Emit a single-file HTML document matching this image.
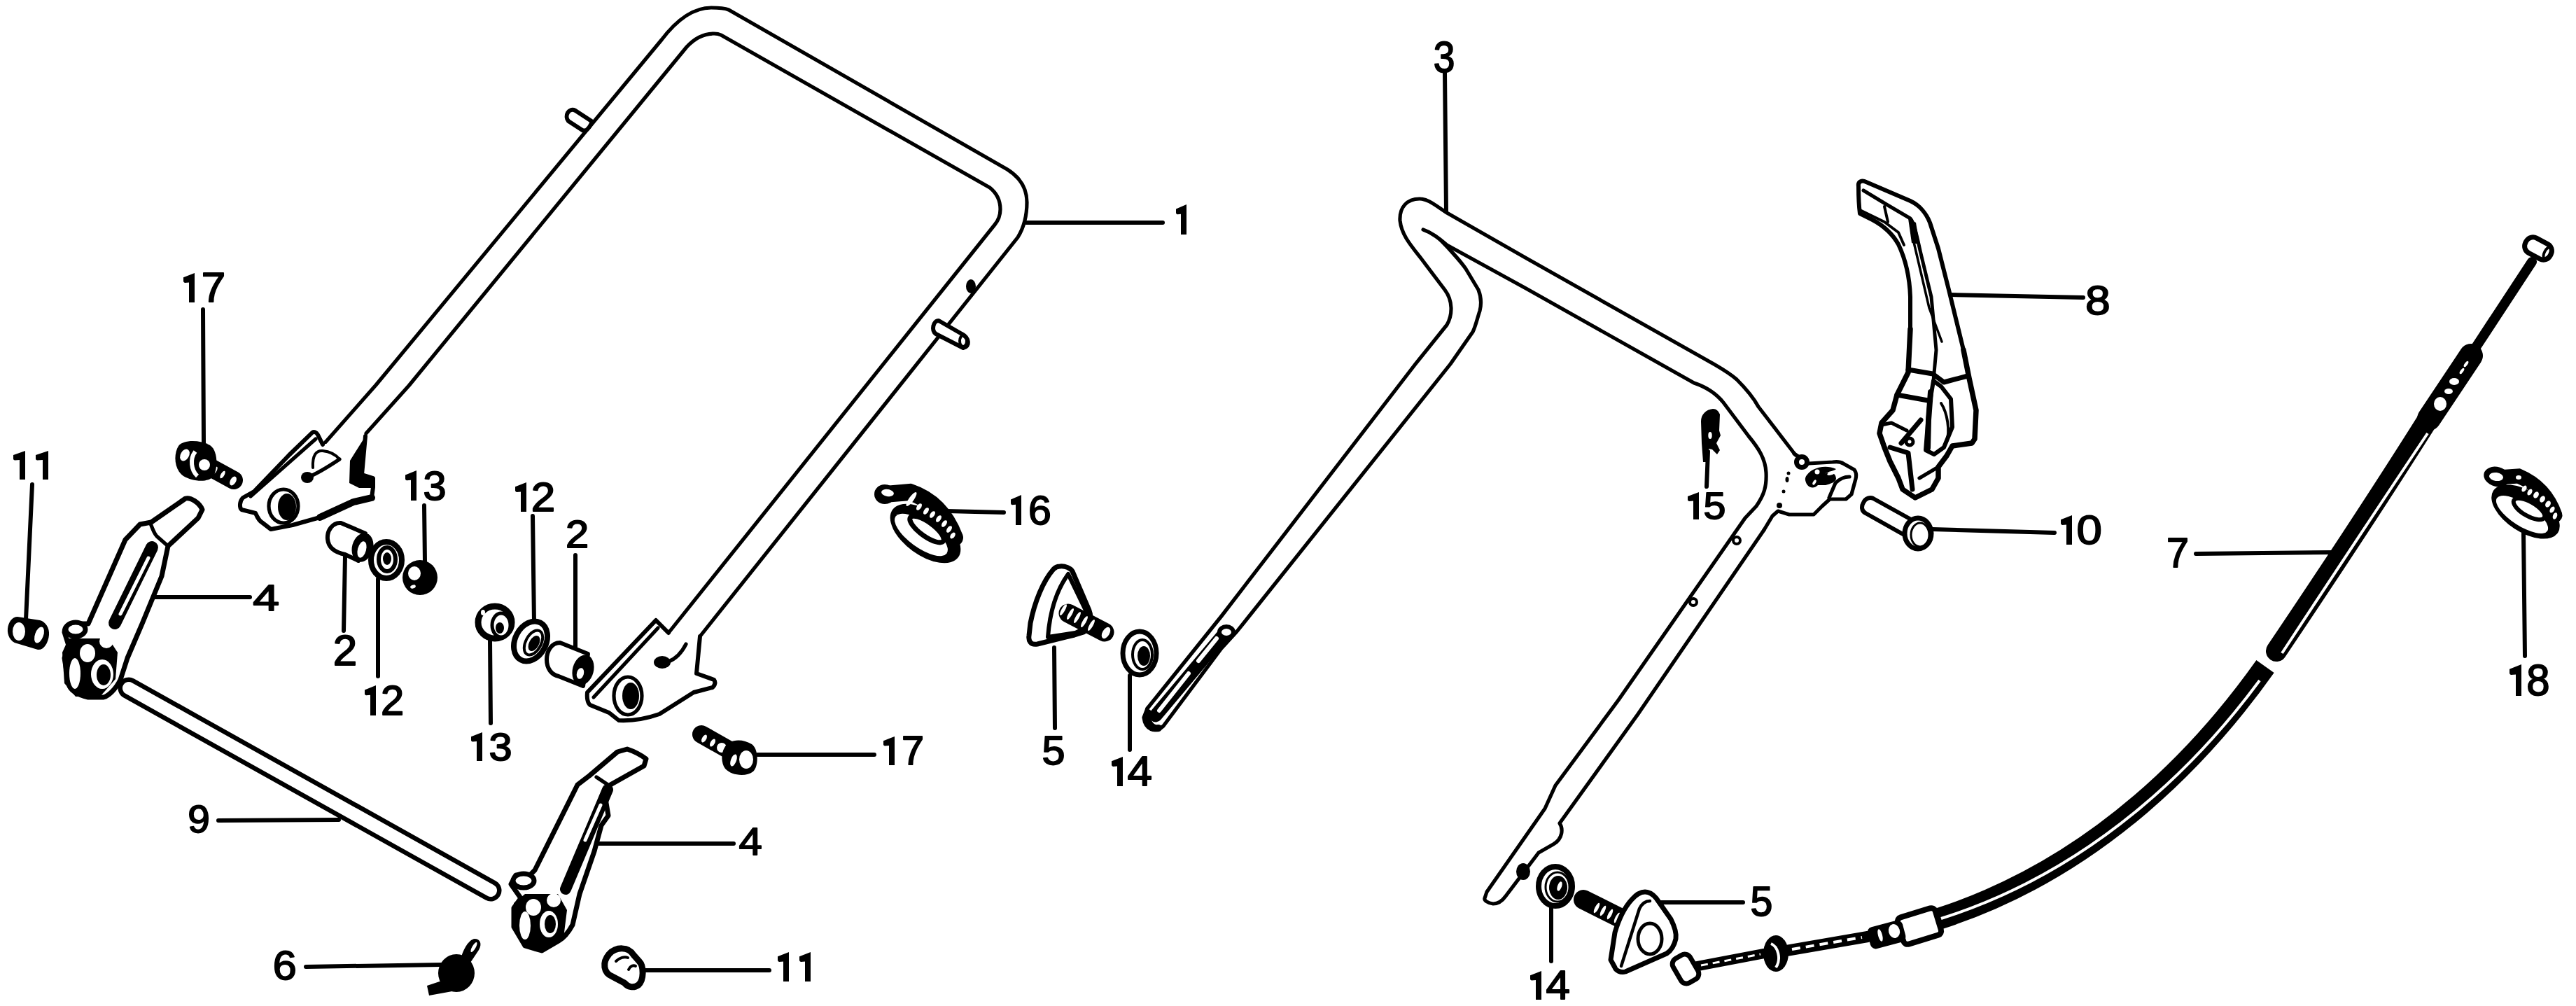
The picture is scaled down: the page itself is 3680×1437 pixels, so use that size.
<!DOCTYPE html>
<html><head><meta charset="utf-8"><style>
html,body{margin:0;padding:0;background:#fff;}
svg{display:block;}
text{font-family:"Liberation Sans",sans-serif;font-weight:normal;fill:#000;stroke:#000;stroke-width:1.8;stroke-linejoin:round;}
.ln{fill:none;stroke:#000;stroke-width:5.2;stroke-linecap:round;stroke-linejoin:round;}
.lt{fill:#fff;stroke:#000;stroke-width:6;stroke-linecap:round;stroke-linejoin:round;}
.ld{stroke:#000;stroke-width:6;stroke-linecap:round;}
.bk{fill:#000;}
.wh{fill:#fff;}
</style></head><body>
<svg width="3680" height="1437" viewBox="0 0 3680 1437">
<line x1="1466" y1="318" x2="1661" y2="318" class="ld"/>
<line x1="2064" y1="104" x2="2066" y2="302" class="ld"/>
<line x1="2786" y1="421" x2="2976" y2="425" class="ld"/>
<line x1="290" y1="442" x2="291" y2="633" class="ld"/>
<line x1="46" y1="692" x2="37" y2="885" class="ld"/>
<line x1="606" y1="722" x2="607" y2="803" class="ld"/>
<line x1="493" y1="794" x2="491" y2="901" class="ld"/>
<line x1="540" y1="827" x2="540" y2="966" class="ld"/>
<line x1="761" y1="737" x2="763" y2="889" class="ld"/>
<line x1="822" y1="793" x2="822" y2="927" class="ld"/>
<line x1="700" y1="915" x2="701" y2="1033" class="ld"/>
<line x1="220" y1="853" x2="357" y2="853" class="ld"/>
<line x1="312" y1="1172" x2="484" y2="1171" class="ld"/>
<line x1="1082" y1="1078" x2="1249" y2="1078" class="ld"/>
<line x1="855" y1="1205" x2="1048" y2="1205" class="ld"/>
<line x1="437" y1="1381" x2="630" y2="1378" class="ld"/>
<line x1="918" y1="1386" x2="1099" y2="1386" class="ld"/>
<line x1="1352" y1="730" x2="1434" y2="732" class="ld"/>
<line x1="1506" y1="925" x2="1507" y2="1040" class="ld"/>
<line x1="1614" y1="965" x2="1614" y2="1071" class="ld"/>
<line x1="2440" y1="645" x2="2438" y2="695" class="ld"/>
<line x1="2216" y1="1296" x2="2216" y2="1373" class="ld"/>
<line x1="2368" y1="1289" x2="2490" y2="1289" class="ld"/>
<line x1="2760" y1="756" x2="2935" y2="761" class="ld"/>
<line x1="3137" y1="791" x2="3333" y2="789" class="ld"/>
<line x1="3605" y1="762" x2="3607" y2="937" class="ld"/>
<!-- Handle 1 -->
<path class="ln" d="M462,635 L537,550 L945,57 C967,28 990,11 1016,11 C1030,11 1036,12 1041,14 L1439,242 C1458,254 1467,270 1467,289 C1467,310 1462,326 1454,339 L1000,909"/>
<path class="ln" d="M523,619 L584,551 L981,67 C992,55 1005,48 1020,48 C1024,48 1026,48 1030,50 L1414,268 C1424,276 1429,287 1429,299 C1429,308 1426,315 1421,321 L955,904"/>
<path class="lt" d="M845,173 L822,158 C812,153 806,166 812,173 L832,186 C838,189 843,180 845,176 Z"/>
<ellipse class="bk" cx="1387" cy="409" rx="7" ry="10"/>
<path class="lt" d="M1341,458 L1374,477 C1385,483 1386,495 1376,497 L1337,477 C1330,472 1333,458 1341,458 Z"/>
<ellipse class="ln" cx="1376" cy="487" rx="5" ry="8" style="stroke-width:4"/>
<!-- left bracket of handle 1 -->
<path class="lt" d="M461,635 L454,621 C452,617 448,616 446,618 L413,650 L363,702 L347,711 C342,716 342,725 345,728 L365,733 C368,740 372,745 374,746 L387,756 L418,750 L457,739 L505,717 L531,711 L533,696 L533,683 L517,678 L522,623"/>
<path class="bk" d="M522,623 L500,658 L499,690 L513,697 L533,697 L534,683 L517,678 Z"/>
<path class="ln" d="M457,739 L505,717 L531,711" style="stroke-width:10"/>
<path class="ln" d="M358,709 L451,627"/>
<ellipse class="ln" cx="405" cy="723" rx="21" ry="24"/>
<ellipse class="bk" cx="410" cy="724" rx="13" ry="19"/>
<ellipse class="bk" cx="439" cy="682" rx="9" ry="8"/>
<path class="ln" d="M439,682 C455,676 470,666 485,656"/>
<path class="ln" d="M447,668 C446,650 452,643 461,644 C472,645 480,650 485,656" style="stroke-width:4"/>
<!-- right bracket of handle 1 -->
<path class="lt" d="M955,904 L937,886 L839,989 C838,998 840,1005 843,1007 L870,1018 L884,1029 C905,1030 925,1026 942,1020 L991,989 L1018,982 C1022,978 1022,974 1020,971 L995,962 L1000,909"/>
<path class="ln" d="M848,996 L940,897"/>
<ellipse class="ln" cx="897" cy="994" rx="20" ry="27"/>
<ellipse class="bk" cx="901" cy="994" rx="12" ry="19"/>
<ellipse class="bk" cx="946" cy="946" rx="12" ry="9"/>
<path class="ln" d="M955,945 C968,940 975,930 980,920"/>
<!-- part 17 upper bolt -->
<line x1="292" y1="663" x2="334" y2="686" stroke="#000" stroke-width="26" stroke-linecap="round"/>
<ellipse class="wh" cx="307" cy="672" rx="2.5" ry="6" transform="rotate(30 307 672)"/>
<ellipse class="wh" cx="318" cy="678" rx="2.5" ry="6" transform="rotate(30 318 678)"/>
<ellipse class="wh" cx="333" cy="687" rx="4" ry="7" transform="rotate(30 333 687)"/>
<path class="bk" d="M255,637 C262,628 285,628 300,636 C312,644 311,670 305,680 C298,690 275,688 262,680 C248,670 248,648 255,637 Z"/>
<ellipse class="wh" cx="264" cy="650" rx="6" ry="9" transform="rotate(30 264 650)"/>
<circle class="wh" cx="292" cy="664" r="8"/>
<path d="M279,645 C271,655 273,672 282,680" stroke="#fff" stroke-width="6" fill="none"/>
<!-- part 11 left cap -->
<path class="bk" d="M25,881 L57,886 C65,888 71,897 70,907 C69,919 62,929 54,928 L24,919 C15,917 10,907 11,898 C12,888 18,881 25,881 Z"/>
<ellipse class="wh" cx="27" cy="902" rx="9" ry="13"/>
<ellipse class="wh" cx="56" cy="907" rx="6" ry="12" transform="rotate(20 56 907)"/>
<!-- part 4 left lever -->
<path class="lt" d="M216,746 L265,712 C272,710 285,718 289,728 L283,740 L240,780 L231,823 L203,891 L182,940 L172,971 C165,985 155,994 148,996 L126,996 C108,992 100,985 98,977 L92,940 L98,922 L92,903 C92,895 98,891 105,891 L126,891 L145,848 L179,771 L200,749 Z" style="stroke-width:7"/>
<path class="ln" d="M215,748 C218,755 220,762 224,766 L240,780"/>
<path d="M217,782 L164,890" stroke="#000" stroke-width="18" stroke-linecap="round"/>
<path d="M212,797 L172,877" stroke="#fff" stroke-width="5" stroke-linecap="round"/>
<path class="bk" d="M89,932 L98,912 L155,912 L168,932 L165,970 L143,995 L108,995 L92,976 Z"/>
<circle class="wh" cx="152" cy="916" r="10"/>
<ellipse class="wh" cx="125" cy="933" rx="11" ry="13"/>
<ellipse class="wh" cx="146" cy="963" rx="16" ry="21"/>
<ellipse class="bk" cx="148" cy="964" rx="10" ry="15"/>
<ellipse class="wh" cx="107" cy="962" rx="8" ry="22"/>
<ellipse class="lt" cx="108" cy="899" rx="14" ry="10" style="stroke-width:7"/>
<!-- part 9 rod -->
<path d="M184,983 L701,1272" stroke="#000" stroke-width="31" stroke-linecap="round"/>
<path d="M184,983 L701,1272" stroke="#fff" stroke-width="18" stroke-linecap="round"/>
<!-- part 2 spacer upper -->
<path class="lt" d="M487,747 C475,746 467,758 468,770 C469,782 478,789 493,792 L512,801 L522,762 Z"/>
<ellipse class="bk" cx="518" cy="782" rx="15" ry="21" transform="rotate(15 518 782)"/>
<ellipse class="wh" cx="517" cy="785" rx="6" ry="12" transform="rotate(15 517 785)"/>
<!-- washer 12 upper -->
<ellipse class="lt" cx="552" cy="800" rx="22" ry="26" style="stroke-width:8"/>
<ellipse class="ln" cx="553" cy="799" rx="12" ry="17" style="stroke-width:6"/>
<ellipse class="bk" cx="553" cy="798" rx="6" ry="9"/>
<!-- nut 13 upper -->
<ellipse class="bk" cx="600" cy="825" rx="25" ry="25"/>
<ellipse class="wh" cx="592" cy="819" rx="9" ry="10"/>
<ellipse class="wh" cx="590" cy="838" rx="4" ry="2.5" transform="rotate(-20 590 838)"/>
<!-- nut 13 lower -->
<ellipse cx="707" cy="889" rx="24" ry="23" fill="#fff" stroke="#000" stroke-width="9"/>
<ellipse cx="716" cy="893" rx="13" ry="17" fill="#fff" stroke="#000" stroke-width="5"/>
<ellipse class="bk" cx="714" cy="897" rx="6" ry="8"/>
<ellipse class="wh" cx="690" cy="875" rx="3" ry="4"/>
<!-- washer 12 mid -->
<ellipse cx="758" cy="916" rx="22" ry="30" transform="rotate(28 758 916)" fill="#fff" stroke="#000" stroke-width="8"/>
<ellipse cx="762" cy="918" rx="11" ry="19" transform="rotate(28 762 918)" fill="#fff" stroke="#000" stroke-width="4"/>
<ellipse class="bk" cx="763" cy="919" rx="7" ry="12" transform="rotate(28 763 919)"/>
<!-- spacer 2 mid -->
<path class="lt" d="M800,918 C788,918 781,930 781,942 C781,955 788,964 798,966 L833,980 L840,934 Z"/>
<ellipse class="bk" cx="833" cy="957" rx="15" ry="22" transform="rotate(15 833 957)"/>
<ellipse class="wh" cx="829" cy="962" rx="5" ry="8" transform="rotate(15 829 962)"/>
<!-- part 17 lower bolt -->
<line x1="1002" y1="1049" x2="1048" y2="1075" stroke="#000" stroke-width="26" stroke-linecap="round"/>
<ellipse class="wh" cx="1006" cy="1055" rx="3" ry="6" transform="rotate(30 1006 1055)"/>
<ellipse class="wh" cx="1018" cy="1061" rx="3" ry="6" transform="rotate(30 1018 1061)"/>
<circle class="wh" cx="1031" cy="1068" r="7"/>
<path class="bk" d="M1035,1068 C1040,1056 1060,1054 1074,1063 C1084,1070 1084,1095 1076,1102 C1066,1110 1045,1108 1036,1098 C1030,1090 1030,1076 1035,1068 Z"/>
<ellipse class="wh" cx="1066" cy="1085" rx="10" ry="13"/>
<ellipse class="wh" cx="1048" cy="1086" rx="4" ry="9" transform="rotate(20 1048 1086)"/>
<!-- part 4 lower lever -->
<path class="lt" d="M882,1074 L896,1070 C905,1073 915,1078 923,1084 L920,1094 L872,1121 L865,1141 L869,1165 L859,1179 L849,1216 L828,1277 L818,1321 C812,1332 805,1340 798,1344 L774,1358 L750,1351 L734,1324 L734,1297 L744,1283 L730,1263 L737,1250 L757,1250 L764,1243 L798,1175 L825,1121 L842,1108 Z" style="stroke-width:7"/>
<path class="ln" d="M852,1110 L870,1122"/>
<path d="M868,1128 L808,1270" stroke="#000" stroke-width="16" stroke-linecap="round"/>
<path d="M858,1150 L836,1200" stroke="#fff" stroke-width="5" stroke-linecap="round"/>
<path class="bk" d="M734,1290 L750,1277 L797,1277 L810,1300 L805,1340 L775,1357 L750,1350 L735,1325 Z"/>
<circle class="wh" cx="791" cy="1286" r="10"/>
<ellipse class="wh" cx="762" cy="1296" rx="11" ry="12"/>
<ellipse class="wh" cx="784" cy="1320" rx="13" ry="19"/>
<ellipse class="bk" cx="786" cy="1320" rx="8" ry="13"/>
<ellipse class="wh" cx="750" cy="1322" rx="8" ry="20"/>
<ellipse class="lt" cx="748" cy="1258" rx="15" ry="10" style="stroke-width:7"/>
<!-- part 6 spring -->
<ellipse class="bk" cx="652" cy="1390" rx="26" ry="27"/>
<path class="bk" d="M658,1370 C662,1355 670,1342 678,1341 C686,1341 689,1348 684,1357 L670,1378 Z"/>
<ellipse class="wh" cx="677" cy="1353" rx="2.5" ry="8" transform="rotate(30 677 1353)"/>
<path class="bk" d="M610,1408 L640,1398 L646,1416 L613,1422 Z"/>
<!-- part 11 lower cap -->
<path class="lt" d="M870,1363 C880,1352 898,1352 905,1364 L913,1373 C920,1380 920,1400 912,1407 C905,1412 897,1410 892,1404 L875,1395 C862,1390 860,1375 870,1363 Z" style="stroke-width:9"/>
<path class="ln" d="M880,1373 C885,1368 892,1366 897,1368" style="stroke-width:4"/>
<path class="ln" d="M898,1385 C900,1380 905,1378 908,1380" style="stroke-width:4"/>
<!-- part 16 clamp middle -->
<ellipse class="bk" cx="1322" cy="762" rx="58" ry="31" transform="rotate(36 1322 762)"/>
<ellipse class="wh" cx="1316" cy="764" rx="45" ry="18" transform="rotate(36 1316 764)"/>
<ellipse cx="1324" cy="756" rx="29" ry="10" transform="rotate(36 1324 756)" fill="#fff" stroke="#000" stroke-width="7"/>
<path d="M1264,706 L1300,703 Q1345,718 1364,768" stroke="#000" stroke-width="24" fill="none" stroke-linecap="round"/>
<ellipse class="bk" cx="1264" cy="706" rx="15" ry="14"/>
<ellipse class="wh" cx="1268" cy="704" rx="9" ry="5" transform="rotate(10 1268 704)"/>
<ellipse class="wh" cx="1302" cy="713" rx="3.5" ry="12" transform="rotate(35 1302 713)"/>
<ellipse class="wh" cx="1313" cy="724" rx="3" ry="5.5" transform="rotate(35 1313 724)"/>
<ellipse class="wh" cx="1323" cy="730" rx="3" ry="5.5" transform="rotate(35 1323 730)"/>
<ellipse class="wh" cx="1332" cy="735" rx="3" ry="5.5" transform="rotate(35 1332 735)"/>
<ellipse class="wh" cx="1341" cy="741" rx="3" ry="5.5" transform="rotate(35 1341 741)"/>
<ellipse class="wh" cx="1349" cy="748" rx="3" ry="5.5" transform="rotate(35 1349 748)"/>
<ellipse class="wh" cx="1356" cy="756" rx="3" ry="5.5" transform="rotate(35 1356 756)"/>
<ellipse class="wh" cx="1361" cy="765" rx="3" ry="5" transform="rotate(35 1361 765)"/>
<!-- part 5 knob mid -->
<path class="lt" d="M1514,809 C1522,808 1530,812 1532,816 L1556,872 C1560,882 1558,895 1548,903 L1535,907 L1482,920 C1472,922 1469,915 1470,908 L1472,890 C1478,860 1490,830 1505,813 C1508,810 1511,809 1514,809 Z" style="stroke-width:7"/>
<path class="ln" d="M1497,910 C1500,870 1510,842 1526,820 L1553,876 C1556,890 1548,900 1536,904 Z" style="stroke-width:6"/>
<line x1="1526" y1="876" x2="1578" y2="903" stroke="#000" stroke-width="27" stroke-linecap="round"/>
<ellipse class="wh" cx="1519" cy="871" rx="2.5" ry="9" transform="rotate(30 1519 871)"/>
<ellipse class="wh" cx="1529" cy="877" rx="2.5" ry="9" transform="rotate(30 1529 877)"/>
<ellipse class="wh" cx="1539" cy="882" rx="2.5" ry="9" transform="rotate(30 1539 882)"/>
<ellipse class="wh" cx="1549" cy="888" rx="2.5" ry="9" transform="rotate(30 1549 888)"/>
<ellipse class="wh" cx="1559" cy="893" rx="2.5" ry="9" transform="rotate(30 1559 893)"/>
<ellipse class="wh" cx="1580" cy="904" rx="5" ry="9" transform="rotate(30 1580 904)"/>
<!-- washer 14 mid -->
<ellipse class="lt" cx="1628" cy="933" rx="24" ry="31" style="stroke-width:7"/>
<ellipse class="ln" cx="1632" cy="935" rx="14" ry="21" style="stroke-width:4"/>
<ellipse class="bk" cx="1634" cy="937" rx="9" ry="14"/>
<!-- Handle 3 -->
<path class="ln" d="M1639,1012 L1745,880 L2022,520 L2067,464 C2075,450 2076,430 2064,414 L2030,369 C2015,350 2002,335 2000,315 C1999,296 2010,284 2028,284 C2040,284 2050,293 2067,304 L2179,368 L2450,521 C2462,528 2472,534 2481,542 C2495,556 2505,568 2512,581 L2565,650"/>
<path class="ln" d="M2520,757 L2340,1020 L2228,1176 C2233,1183 2233,1198 2219,1206 L2198,1218 L2151,1280 C2146,1287 2139,1291 2133,1291 C2125,1290 2120,1286 2121,1283 L2124,1274 L2207,1155 L2222,1122 L2312,1000 L2493,740 L2509,723 C2520,707 2524,695 2523,675 C2522,655 2512,640 2498,623 L2462,575 C2450,560 2435,552 2420,547 L2180,412 L2067,350 C2055,340 2045,332 2033,328"/>
<path class="ln" d="M2057,342 C2075,360 2090,378 2094,384 L2112,414 C2116,424 2116,436 2114,444 C2110,456 2108,466 2104,474 L2072,520 L1767,902 L1745,926 L1662,1037 C1650,1048 1636,1042 1634,1025 L1639,1012"/>
<path d="M1651,1022 L1750,904" stroke="#000" stroke-width="19" stroke-linecap="round"/>
<path d="M1656,1015 L1698,962" stroke="#fff" stroke-width="6" stroke-linecap="round"/>
<path d="M1712,944 L1738,912" stroke="#fff" stroke-width="6" stroke-linecap="round"/>
<ellipse class="lt" cx="1752" cy="903" rx="10" ry="8"/>
<path d="M1640,1018 C1636,1030 1645,1042 1655,1040" stroke="#000" stroke-width="10" fill="none" stroke-linecap="round"/>
<!-- bracket handle 3 -->
<path class="ln" d="M2563,648 L2584,662 L2618,660 C2625,659 2630,660 2633,662 L2649,671 C2652,675 2652,680 2651,684 L2645,706 L2637,713 L2614,713 L2603,723 L2591,735 L2556,735 L2540,730 L2532,737 L2520,757"/>
<circle cx="2574" cy="660" r="7.5" fill="#fff" stroke="#000" stroke-width="7"/>
<path class="bk" d="M2579,686 C2581,696 2590,700 2597,693 L2608,693 C2615,691 2622,689 2623,684 C2623,676 2615,672 2606,677 C2612,673 2620,673 2623,670 C2612,665 2600,666 2590,671 C2583,675 2578,681 2579,686 Z"/>
<circle class="wh" cx="2596" cy="674" r="3.5"/>
<ellipse class="wh" cx="2592" cy="689" rx="2" ry="4" transform="rotate(30 2592 689)"/>
<ellipse class="wh" cx="2616" cy="676" rx="6" ry="2.5" transform="rotate(-20 2616 676)"/>
<path class="ln" d="M2613,711 L2622,690 C2628,684 2635,681 2642,681"/>
<circle class="bk" cx="2555" cy="676" r="2.5"/>
<ellipse class="bk" cx="2553" cy="685" rx="2.5" ry="4"/>
<circle class="bk" cx="2548" cy="702" r="2.5"/>
<circle class="bk" cx="2542" cy="722" r="4"/>
<!-- clip 15 -->
<path class="bk" d="M2447,584 C2437,585 2430,592 2430,602 L2431,633 L2433,660 L2440,660 L2441,641 L2446,642 L2453,649 L2457,643 L2452,633 L2458,622 L2456,615 L2457,592 C2455,587 2452,584 2447,584 Z"/>
<ellipse class="wh" cx="2443" cy="622" rx="2.7" ry="5"/>
<!-- holes right leg -->
<circle class="ln" cx="2481" cy="772" r="5" style="stroke-width:4"/>
<circle class="ln" cx="2419" cy="860" r="5" style="stroke-width:4"/>
<ellipse class="bk" cx="2176" cy="1245" rx="10" ry="12"/>
<!-- lever 8 -->
<path class="lt" d="M2655,266 C2654,259 2660,257 2666,260 L2729,287 C2742,293 2752,305 2757,318 L2769,355 L2784,414 L2805,500 L2813,540 L2823,586 L2821,627 L2817,633 L2789,637 L2781,651 L2769,667 L2769,683 L2760,699 L2736,711 L2718,699 L2712,683 L2700,659 L2692,639 L2685,619 L2688,604 L2704,586 L2710,564 L2726,532 L2729,470 L2729,424 C2728,395 2722,370 2712,349 C2703,333 2690,322 2675,314 L2657,305 C2655,290 2655,275 2655,266 Z"/>
<path class="ln" d="M2662,272 L2695,292 L2729,312 C2735,318 2740,345 2744,362 L2759,424 L2766,500 L2762,544" style="stroke-width:5"/>
<path class="ln" d="M2657,300 L2692,317 L2712,332 L2720,350" style="stroke-width:4"/>
<path class="ln" d="M2692,295 L2697,317" style="stroke-width:4"/>
<path class="bk" d="M2726,312 L2737,318 L2742,349 L2731,347 Z"/>
<path class="ln" d="M2734,346 L2756,440 L2774,488" style="stroke-width:3.5"/>
<path class="ln" d="M2726,528 L2761,534 L2777,546 L2811,537" style="stroke-width:7"/>
<path class="ln" d="M2762,544 L2756,580 L2751,643 L2763,649 L2777,639 L2789,610 L2787,570 L2773,552 Z" style="stroke-width:6"/>
<path class="ln" d="M2758,560 L2755,600 L2754,640" style="stroke-width:8"/>
<path class="ln" d="M2773,576 C2782,590 2786,615 2781,631" style="stroke-width:4"/>
<path class="ln" d="M2710,564 L2754,572" style="stroke-width:7"/>
<path class="ln" d="M2688,607 L2702,604 L2724,615"/>
<path class="ln" d="M2700,639 L2726,647 L2732,699" style="stroke-width:7"/>
<path class="ln" d="M2716,633 L2744,600" style="stroke-width:7"/>
<circle cx="2728" cy="631" r="5" fill="#fff" stroke="#000" stroke-width="5"/>
<path class="ln" d="M2742,683 L2769,667"/>
<path class="ln" d="M2805,500 L2813,540 L2823,586 L2821,627 L2817,633 L2789,637 L2781,651 L2769,667 L2769,683 L2760,699 L2736,711 L2718,699 L2712,683 L2700,659 L2692,639 L2685,619 L2688,604 L2704,586 L2710,564 L2726,532 L2729,470" style="stroke-width:7.5"/>
<!-- pin 10 -->
<path class="lt" d="M2662,718 C2665,711 2672,710 2676,712 L2730,742 L2722,765 L2665,733 C2659,730 2659,723 2662,718 Z"/>
<ellipse class="lt" cx="2740" cy="762" rx="19" ry="22" style="stroke-width:7"/>
<ellipse class="ln" cx="2743" cy="764" rx="13" ry="17" style="stroke-width:3"/>
<!-- cable 7 -->
<rect class="lt" x="-20" y="-12" width="40" height="24" rx="11" transform="translate(3626,355) rotate(28)" style="stroke-width:7"/>
<ellipse class="ln" cx="3639" cy="361" rx="4" ry="9" transform="rotate(28 3639 361)" style="stroke-width:4"/>
<line x1="3617" y1="374" x2="3531" y2="505" stroke="#000" stroke-width="14" stroke-linecap="round"/>
<line x1="3530" y1="508" x2="3470" y2="598" stroke="#000" stroke-width="34" stroke-linecap="round"/>
<ellipse class="wh" cx="3523" cy="520" rx="2" ry="5" transform="rotate(35 3523 520)"/>
<ellipse class="wh" cx="3517" cy="530" rx="2" ry="5" transform="rotate(35 3517 530)"/>
<ellipse class="wh" cx="3506" cy="545" rx="7" ry="5"/>
<ellipse class="wh" cx="3498" cy="559" rx="6" ry="4"/>
<ellipse class="wh" cx="3486" cy="577" rx="9" ry="10"/>
<path d="M3468,600 Q3380,740 3252,930" stroke="#000" stroke-width="30" fill="none" stroke-linecap="round"/>
<path d="M3466,618 Q3383,742 3258,932" stroke="#fff" stroke-width="4" fill="none" transform="translate(2,1)"/>
<path d="M3236,952 C3152,1070.5 3000.4,1237.9 2771,1312" stroke="#000" stroke-width="31" fill="none" stroke-linecap="butt"/>
<path d="M3226,970 C3150,1073 3000,1238 2771,1310" stroke="#fff" stroke-width="4" fill="none" transform="translate(2,2)"/>
<rect class="lt" x="-28" y="-20" width="56" height="40" rx="6" transform="translate(2742,1323) rotate(-17)" style="stroke-width:8"/>
<rect class="bk" x="-26" y="-16" width="52" height="32" rx="8" transform="translate(2695,1335) rotate(-15)"/>
<ellipse class="wh" cx="2686" cy="1336" rx="3" ry="9" transform="rotate(-15 2686 1336)"/>
<ellipse class="wh" cx="2706" cy="1330" rx="8" ry="10" transform="rotate(-15 2706 1330)"/>
<line x1="2552" y1="1358" x2="2668" y2="1338" stroke="#000" stroke-width="16" stroke-linecap="round"/>
<line x1="2560" y1="1356" x2="2660" y2="1339" stroke="#fff" stroke-width="4" stroke-dasharray="12 8"/>
<ellipse class="bk" cx="2537" cy="1362" rx="18" ry="26"/>
<path d="M2530,1348 C2540,1352 2545,1370 2537,1382" stroke="#fff" stroke-width="4" fill="none"/>
<line x1="2420" y1="1381" x2="2520" y2="1362" stroke="#000" stroke-width="14" stroke-linecap="round"/>
<line x1="2430" y1="1379" x2="2515" y2="1363" stroke="#fff" stroke-width="3" stroke-dasharray="10 7"/>
<rect class="lt" x="-14" y="-20" width="28" height="40" rx="9" transform="translate(2408,1384) rotate(-30)" style="stroke-width:7"/>
<!-- knob 5 bottom -->
<line x1="2262" y1="1285" x2="2318" y2="1313" stroke="#000" stroke-width="28" stroke-linecap="round"/>
<ellipse class="wh" cx="2281" cy="1297" rx="2.5" ry="8" transform="rotate(27 2281 1297)"/>
<ellipse class="wh" cx="2290" cy="1301" rx="2.5" ry="8" transform="rotate(27 2290 1301)"/>
<ellipse class="wh" cx="2300" cy="1306" rx="2.5" ry="8" transform="rotate(27 2300 1306)"/>
<ellipse class="wh" cx="2310" cy="1311" rx="2.5" ry="8" transform="rotate(27 2310 1311)"/>
<path class="lt" d="M2301,1371 L2307,1332 C2312,1315 2320,1297 2331,1285 C2338,1277 2344,1274 2350,1274 C2356,1274 2361,1277 2366,1283 L2387,1313 C2393,1325 2395,1335 2394,1341 C2392,1350 2387,1358 2381,1362 L2322,1388 C2315,1390 2308,1386 2307,1382 Z" style="stroke-width:7"/>
<path class="ln" d="M2316,1380 L2342,1298 C2346,1290 2352,1287 2357,1287" style="stroke-width:4.5"/>
<ellipse class="ln" cx="2357" cy="1341" rx="17" ry="22" style="stroke-width:5"/>
<!-- washer 14 bottom -->
<ellipse class="lt" cx="2222" cy="1266" rx="24" ry="28" style="stroke-width:8"/>
<ellipse class="ln" cx="2225" cy="1267" rx="17" ry="21" style="stroke-width:3"/>
<ellipse class="bk" cx="2226" cy="1268" rx="13" ry="17"/>
<ellipse class="wh" cx="2228" cy="1266" rx="3" ry="7" transform="rotate(20 2228 1266)"/>
<!-- clamp 16 right -->
<ellipse class="bk" cx="3608" cy="731" rx="55" ry="29" transform="rotate(33 3608 731)"/>
<ellipse class="wh" cx="3603" cy="735" rx="43" ry="16" transform="rotate(33 3603 735)"/>
<ellipse cx="3613" cy="727" rx="25" ry="10" transform="rotate(30 3613 727)" fill="#fff" stroke="#000" stroke-width="6"/>
<path d="M3568,682 L3598,680 Q3636,696 3650,736" stroke="#000" stroke-width="21" fill="none" stroke-linecap="round"/>
<ellipse class="bk" cx="3567" cy="681" rx="19" ry="14" transform="rotate(15 3567 681)"/>
<ellipse class="wh" cx="3566" cy="681" rx="10" ry="6" transform="rotate(8 3566 681)"/>
<ellipse class="wh" cx="3598" cy="682" rx="4" ry="3"/>
<ellipse class="wh" cx="3606" cy="698" rx="3" ry="5" transform="rotate(30 3606 698)"/>
<ellipse class="wh" cx="3614" cy="703" rx="3" ry="5" transform="rotate(30 3614 703)"/>
<ellipse class="wh" cx="3623" cy="707" rx="3.5" ry="5" transform="rotate(30 3623 707)"/>
<ellipse class="wh" cx="3632" cy="713" rx="3.5" ry="5" transform="rotate(30 3632 713)"/>
<ellipse class="wh" cx="3640" cy="720" rx="3.5" ry="5" transform="rotate(30 3640 720)"/>
<ellipse class="wh" cx="3646" cy="728" rx="3" ry="5" transform="rotate(30 3646 728)"/>
<ellipse class="wh" cx="3650" cy="737" rx="3" ry="5" transform="rotate(20 3650 737)"/>

<path d="M1680.0,298.4 L1695.0,292.0 L1695.0,335.0 L1687.0,335.0 L1687.0,305.8 L1682.0,306.2 Q1680.0,305.8 1680.0,304.0 Z" fill="#000"/>
<text transform="translate(2047.8,102.5) scale(0.885,1)" font-size="62.4">3</text>
<text transform="translate(2979.1,448.5) scale(1.104,1)" font-size="58.2">8</text>
<path d="M262.0,396.3 L278.0,390.0 L278.0,432.0 L270.0,432.0 L270.0,403.4 L264.0,403.9 Q262.0,403.4 262.0,401.8 Z" fill="#000"/>
<text transform="translate(287.7,431.1) scale(1.061,1)" font-size="58.4">7</text>
<path d="M19.0,650.1 L36.0,644.0 L36.0,685.0 L28.0,685.0 L28.0,657.1 L21.0,657.5 Q19.0,657.1 19.0,655.5 Z" fill="#000"/>
<path d="M51.0,650.1 L69.0,644.0 L69.0,685.0 L61.0,685.0 L61.0,657.1 L53.0,657.5 Q51.0,657.1 51.0,655.5 Z" fill="#000"/>
<path d="M579.0,678.5 L595.0,672.0 L595.0,715.0 L587.0,715.0 L587.0,685.8 L581.0,686.2 Q579.0,685.8 579.0,684.0 Z" fill="#000"/>
<text transform="translate(604.6,713.5) scale(1.022,1)" font-size="58.2">3</text>
<path d="M736.0,695.3 L752.0,689.0 L752.0,731.0 L744.0,731.0 L744.0,702.4 L738.0,702.9 Q736.0,702.4 736.0,700.8 Z" fill="#000"/>
<text transform="translate(758.8,730.1) scale(1.074,1)" font-size="57.6">2</text>
<text transform="translate(807.9,782.1) scale(1.090,1)" font-size="54.7">2</text>
<text transform="translate(361.3,872.1) scale(1.290,1)" font-size="52.6">4</text>
<text transform="translate(475.8,950.1) scale(1.023,1)" font-size="60.5">2</text>
<path d="M521.0,985.5 L537.0,979.0 L537.0,1022.0 L529.0,1022.0 L529.0,992.8 L523.0,993.2 Q521.0,992.8 521.0,991.0 Z" fill="#000"/>
<text transform="translate(543.9,1021.1) scale(1.011,1)" font-size="59.0">2</text>
<path d="M673.0,1052.2 L689.0,1046.0 L689.0,1087.0 L681.0,1087.0 L681.0,1059.1 L675.0,1059.5 Q673.0,1059.1 673.0,1057.5 Z" fill="#000"/>
<text transform="translate(698.6,1085.5) scale(1.075,1)" font-size="55.4">3</text>
<path d="M1262.0,1058.2 L1278.0,1052.0 L1278.0,1093.0 L1270.0,1093.0 L1270.0,1065.1 L1264.0,1065.5 Q1262.0,1065.1 1262.0,1063.5 Z" fill="#000"/>
<text transform="translate(1288.0,1092.1) scale(1.011,1)" font-size="57.0">7</text>
<text transform="translate(268.2,1188.5) scale(1.024,1)" font-size="55.4">9</text>
<text transform="translate(1055.5,1221.1) scale(1.079,1)" font-size="55.5">4</text>
<text transform="translate(389.8,1398.5) scale(1.077,1)" font-size="56.8">6</text>
<path d="M1111.0,1366.3 L1127.0,1360.0 L1127.0,1402.0 L1119.0,1402.0 L1119.0,1373.4 L1113.0,1373.9 Q1111.0,1373.4 1111.0,1371.8 Z" fill="#000"/>
<path d="M1142.0,1366.3 L1158.0,1360.0 L1158.0,1402.0 L1150.0,1402.0 L1150.0,1373.4 L1144.0,1373.9 Q1142.0,1373.4 1142.0,1371.8 Z" fill="#000"/>
<path d="M1444.0,713.5 L1459.0,707.0 L1459.0,750.0 L1451.0,750.0 L1451.0,720.8 L1446.0,721.2 Q1444.0,720.8 1444.0,719.0 Z" fill="#000"/>
<text transform="translate(1468.9,748.5) scale(1.014,1)" font-size="58.2">6</text>
<path d="M2411.0,708.9 L2427.0,703.0 L2427.0,742.0 L2419.0,742.0 L2419.0,715.5 L2413.0,715.9 Q2411.0,715.5 2411.0,713.9 Z" fill="#000"/>
<text transform="translate(2433.6,740.6) scale(1.077,1)" font-size="53.3">5</text>
<text transform="translate(1488.5,1091.5) scale(1.033,1)" font-size="57.6">5</text>
<path d="M1588.0,1087.3 L1604.0,1081.0 L1604.0,1123.0 L1596.0,1123.0 L1596.0,1094.4 L1590.0,1094.9 Q1588.0,1094.4 1588.0,1092.8 Z" fill="#000"/>
<text transform="translate(1610.4,1122.1) scale(1.093,1)" font-size="58.4">4</text>
<path d="M2186.0,1393.2 L2202.0,1387.0 L2202.0,1428.0 L2194.0,1428.0 L2194.0,1400.1 L2188.0,1400.5 Q2186.0,1400.1 2186.0,1398.5 Z" fill="#000"/>
<text transform="translate(2208.5,1427.1) scale(1.086,1)" font-size="57.0">4</text>
<text transform="translate(2500.6,1307.5) scale(0.972,1)" font-size="59.0">5</text>
<path d="M2944.0,742.3 L2960.0,736.0 L2960.0,778.0 L2952.0,778.0 L2952.0,749.4 L2946.0,749.9 Q2944.0,749.4 2944.0,747.8 Z" fill="#000"/>
<text transform="translate(2966.4,776.5) scale(1.150,1)" font-size="56.8">0</text>
<text transform="translate(3095.0,810.1) scale(0.985,1)" font-size="58.4">7</text>
<path d="M3585.0,955.8 L3602.0,949.0 L3602.0,994.0 L3594.0,994.0 L3594.0,963.4 L3587.0,963.9 Q3585.0,963.4 3585.0,961.6 Z" fill="#000"/>
<text transform="translate(3609.3,992.5) scale(0.940,1)" font-size="63.8">8</text>
</svg>
</body></html>
